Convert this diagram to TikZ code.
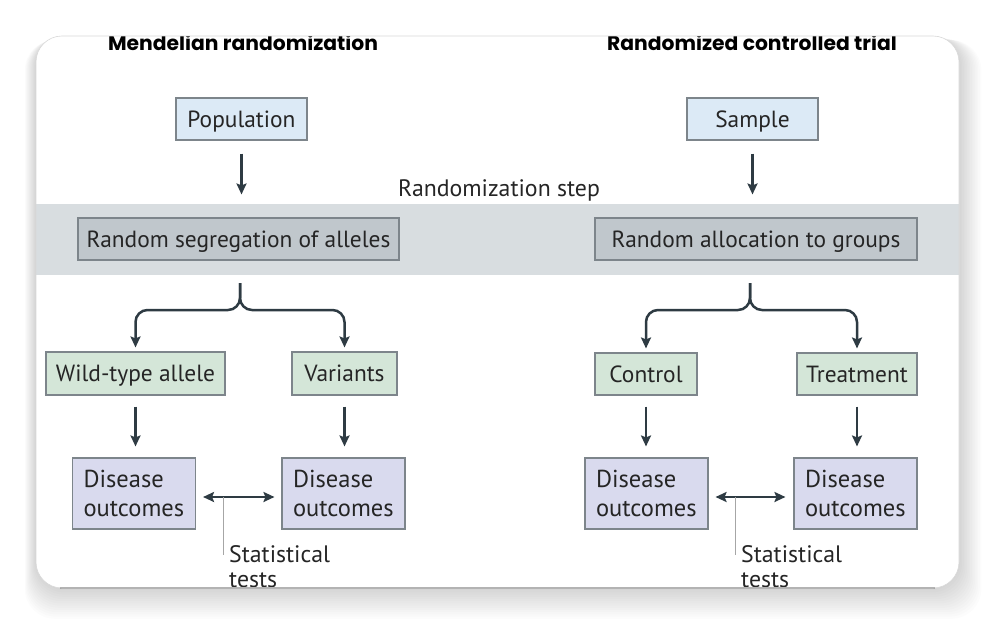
\documentclass[tikz,border=0pt]{standalone}
\usepackage{fontspec}
\setmainfont{PT Sans}
\newfontfamily\ttlfont{Poppins}
\usetikzlibrary{arrows.meta}
\definecolor{arrowc}{HTML}{2E3B43}
\definecolor{bordc}{HTML}{7D858B}
\definecolor{popc}{HTML}{DCEAF6}
\definecolor{bandc}{HTML}{D8DDE0}
\definecolor{segc}{HTML}{C0C7CC}
\definecolor{grnc}{HTML}{D4E6D8}
\definecolor{purc}{HTML}{D9DAEE}
\definecolor{txtc}{HTML}{252525}
\begin{document}
\begin{tikzpicture}[x=1pt,y=-1pt,
  boxbase/.style={draw=bordc,line width=1.1pt,inner sep=0pt,text=txtc},
  box/.style={boxbase,font=\fontsize{23.4}{29}\selectfont,text depth=0pt},
  dis/.style={boxbase,fill=purc,align=left,text width=101pt,inner xsep=11pt,minimum height=71pt,font=\fontsize{24.5}{29}\selectfont},
  arr/.style={draw=arrowc,line width=2.5pt,-{Stealth[length=11pt,width=10pt,inset=2pt]}},
  dbl/.style={draw=arrowc,line width=2.5pt,{Stealth[length=11pt,width=10pt,inset=2pt]}-{Stealth[length=11pt,width=10pt,inset=2pt]}},
  ttl/.style={font=\ttlfont\fontsize{20.3}{22}\selectfont\bfseries,text=black,anchor=base},
  lbl/.style={font=\fontsize{23.8}{26}\selectfont,text=txtc,inner sep=0pt},
  statline/.style={draw=gray!70,line width=0.9pt}
]
\useasboundingbox (0,0) rectangle (996,626);
\fill[white] (0,0) rectangle (996,626);
% shadow
\foreach \i in {1,...,14}{
  \fill[black,opacity=0.012,rounded corners=30pt] (36-\i*0.8,36+\i*0.3) rectangle (959+\i*1.6,588+\i*2.2);
}
% card
\fill[white,rounded corners=26pt] (36,36) rectangle (959,588);
\begin{scope}
\clip[rounded corners=26pt] (36,36) rectangle (959,588);
\fill[bandc] (36,204) rectangle (959,275);
\node[ttl] (t1) at (243,51) {Mendelian randomization};
\node[ttl] (t2) at (752,51) {Randomized controlled trial};
\node[lbl,anchor=base] (rs) at (499,196) {Randomization step};

\node[box,fill=popc,minimum width=131pt,minimum height=42pt] (pop) at (241.5,119) {Population};
\node[box,fill=popc,minimum width=131pt,minimum height=42pt] (smp) at (752.5,119) {Sample};
\node[box,fill=segc,minimum width=321pt,minimum height=42pt] (seg) at (238.5,239) {Random segregation of alleles};
\node[box,fill=segc,minimum width=322pt,minimum height=42pt] (alc) at (756,239) {Random allocation to groups};

\node[box,fill=grnc,minimum width=179pt,minimum height=43pt] (wt) at (135.5,373.5) {Wild-type allele};
\node[box,fill=grnc,minimum width=105pt,minimum height=43pt] (var) at (344.5,373.5) {Variants};
\node[box,fill=grnc,minimum width=102pt,minimum height=42pt] (ctl) at (646,374) {Control};
\node[box,fill=grnc,minimum width=120pt,minimum height=42pt] (trt) at (857,374) {Treatment};

\node[dis] (d1) at (134,493.5) {Disease\\outcomes};
\node[dis] (d2) at (343.5,493.5) {Disease\\outcomes};
\node[dis] (d3) at (646.5,493.5) {Disease\\outcomes};
\node[dis] (d4) at (855.5,493.5) {Disease\\outcomes};

% arrows top
\draw[arr,shorten <=13pt,shorten >=23pt] (pop.south) -- (pop.south |- seg.north);
\draw[arr,shorten <=13pt,shorten >=23pt] (smp.south) -- (smp.south |- alc.north);
% braces
\coordinate (bl) at (240,283);
\coordinate (br) at (750,283);
\draw[arr,rounded corners=12pt,shorten >=4pt] (bl) -- (240,310) -- (wt.north |- 0,310) -- (wt.north);
\draw[arr,rounded corners=12pt,shorten >=4pt] (bl) -- (240,310) -- (var.north |- 0,310) -- (var.north);
\draw[arr,rounded corners=12pt,shorten >=4pt] (br) -- (750,310) -- (ctl.north |- 0,310) -- (ctl.north);
\draw[arr,rounded corners=12pt,shorten >=4pt] (br) -- (750,310) -- (trt.north |- 0,310) -- (trt.north);
% group to outcome
\draw[arr,shorten <=11pt,shorten >=11pt] (wt.south) -- (wt.south |- d1.north);
\draw[arr,shorten <=11pt,shorten >=11pt] (var.south) -- (var.south |- d2.north);
\draw[arr,shorten <=11pt,shorten >=11pt] (ctl.south) -- (ctl.south |- d3.north);
\draw[arr,shorten <=11pt,shorten >=11pt] (trt.south) -- (trt.south |- d4.north);
% comparisons
\draw[dbl,shorten <=7pt,shorten >=7pt] (d1.east |- 0,497) -- (d2.west |- 0,497);
\draw[dbl,shorten <=7pt,shorten >=8pt] (d3.east |- 0,497) -- (d4.west |- 0,497);
\coordinate (s1) at (223,497);
\coordinate (s2) at (735,497);
\draw[statline] (s1) -- ++(0,58);
\draw[statline] (s2) -- ++(0,58);
\node[lbl,anchor=base west] (st1) at (229,562) {Statistical};
\node[lbl,anchor=base west] (st2) at (229,587) {tests};
\node[lbl,anchor=base west] (st3) at (741,562) {Statistical};
\node[lbl,anchor=base west] (st4) at (741,587) {tests};
\end{scope}
\draw[gray!75,line width=1.4pt] (60,588) -- (935,588);
\draw[gray!30,line width=0.6pt,rounded corners=26pt] (36,36) rectangle (959,588);
\end{tikzpicture}
\end{document}
